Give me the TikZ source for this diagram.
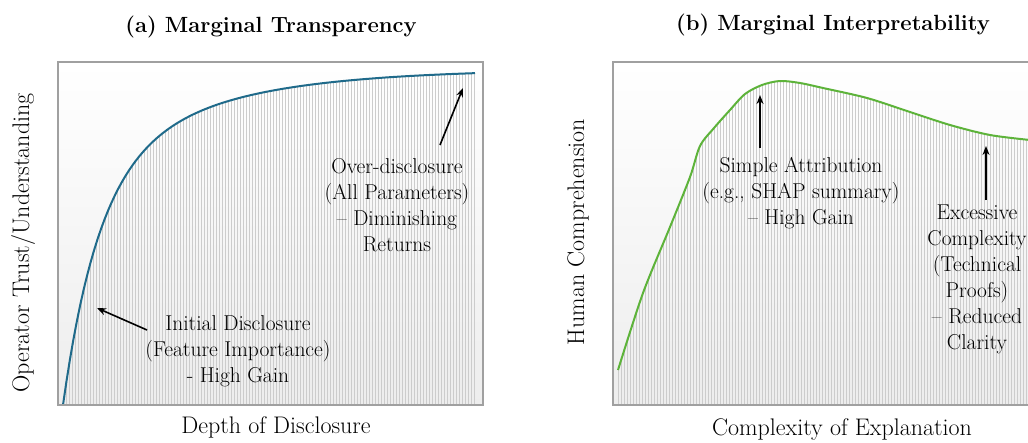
\documentclass[tikz,border=0pt]{standalone}
\usetikzlibrary{arrows.meta}
\definecolor{curveA}{HTML}{1F6A8A}
\definecolor{curveB}{HTML}{5DB33A}
\definecolor{boxgray}{HTML}{A0A0A0}
\tikzset{
  panelbg/.style={top color=white, bottom color=gray!14},
  panelframe/.style={draw=boxgray, line width=1.8pt},
  hatch/.style={draw=gray!40, line width=0.6pt},
  note/.style={align=center, font=\fontsize{21.5}{26}\selectfont, inner sep=0pt},
  ttl/.style={font=\fontsize{22}{26}\bfseries\selectfont, inner sep=0pt},
  axl/.style={font=\fontsize{24}{28}\selectfont, inner sep=0pt},
  pointer/.style={-{Stealth[length=9pt,width=7pt]}, line width=1.6pt, black}
}
\begin{document}
\begin{tikzpicture}[x=1pt,y=-1pt,
  declare function={fa(\t)=405-224*(1-exp(-0.028*(\t-63)))-112*(1-exp(-0.008*(\t-63)));}]
\useasboundingbox (0,0) rectangle (1028,442);
\fill[white] (0,0) rectangle (1028,442);
% ---------- panel (a)
\path[panelbg] (58,62) rectangle (483,405);
\begin{scope}
  \clip plot[domain=63:475, samples=120] (\x,{fa(\x)}) -- (475,405) -- cycle;
  \foreach \x in {60,63,...,480} \draw[hatch] (\x,60) -- (\x,405);
\end{scope}
\draw[curveA, line width=2pt] plot[domain=63:475, samples=120] (\x,{fa(\x)});
\draw[panelframe] (58,62) rectangle (483,405);
\node[ttl] (ta) at (271,27) {(a) Marginal Transparency};
\node[axl] (xa) at (276,427) {Depth of Disclosure};
\node[axl, rotate=90] (ya) at (23,243) {Operator Trust/Understanding};
\node[note] (n1) at (238,351) {Initial Disclosure\\(Feature Importance)\\- High Gain};
\node[note] (n2) at (397,205) {Over-disclosure\\(All Parameters)\\-- Diminishing\\Returns};
\coordinate (p1) at (97,308);
\coordinate (p2) at (463,88);
\draw[pointer] (147,330) -- (p1);
\draw[pointer] (440,145) -- (p2);
% ---------- panel (b)
\path[panelbg] (613,62) rectangle (1045,405);
\begin{scope}
  \clip plot[smooth, tension=0.5] coordinates {(618,370) (643,293) (670,227) (690,177) (700,146) (714,128) (730,110) (745,94) (762,85) (780,81) (800,83) (823,88) (867,98) (910,112) (950,125) (990,135) (1030,140)} -- (1030,405) -- (618,405) -- cycle;
  \foreach \x in {615,618,...,1030} \draw[hatch] (\x,60) -- (\x,405);
\end{scope}
\draw[curveB, line width=2pt] plot[smooth, tension=0.5] coordinates {(618,370) (643,293) (670,227) (690,177) (700,146) (714,128) (730,110) (745,94) (762,85) (780,81) (800,83) (823,88) (867,98) (910,112) (950,125) (990,135) (1030,140)};
\draw[panelframe] (613,62) rectangle (1045,405);
\node[ttl] (tb) at (833,25) {(b) Marginal Interpretability};
\node[axl] (xb) at (842,430) {Complexity of Explanation};
\node[axl, rotate=90] (yb) at (578,232) {Human Comprehension};
\node[note] (n3) at (801,193) {Simple Attribution\\(e.g., SHAP summary)\\-- High Gain};
\node[note] (n4) at (977,279) {Excessive\\Complexity\\(Technical\\Proofs)\\-- Reduced\\Clarity};
\coordinate (p3) at (760,95);
\coordinate (p4) at (986,146);
\draw[pointer] (760,148) -- (p3);
\draw[pointer] (986,200) -- (p4);
\end{tikzpicture}
\end{document}
